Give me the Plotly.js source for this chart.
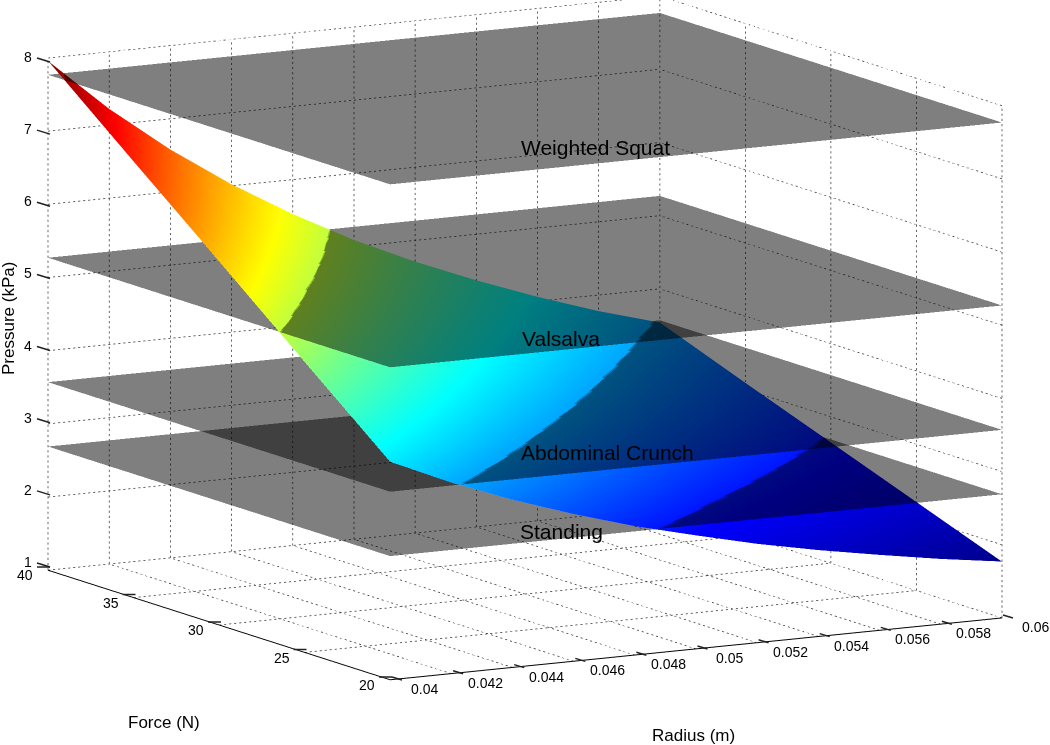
<!DOCTYPE html>
<html>
<head>
<meta charset="utf-8">
<script src="https://cdn.plot.ly/plotly-3.0.1.min.js"></script>
<style>html,body{margin:0;padding:0;background:#fff}#chart{width:1050px;height:745px}</style>
</head>
<body>
<div id="chart"></div>
<script>
const radius = [0.04,0.042,0.044,0.046,0.048,0.05,0.052,0.054,0.056,0.058,0.06];
const force = [20,25,30,35,40];
const pressureTicks = [1,2,3,4,5,6,7,8];
const radiusLabels = ['0.04','0.042','0.044','0.046','0.048','0.05','0.052','0.054','0.056','0.058','0.06'];
const forceLabels = ['20','25','30','35','40'];
const pressureLabels = ['1','2','3','4','5','6','7','8'];
const pressureAtForce20 = [3.98,3.61,3.29,3.01,2.76,2.55,2.35,2.18,2.03,1.89,1.77];
const pressureAtForce25 = [4.97,4.51,4.11,3.76,3.45,3.18,2.94,2.73,2.54,2.37,2.21];
const pressureAtForce30 = [5.97,5.41,4.93,4.51,4.14,3.82,3.53,3.27,3.05,2.84,2.65];
const pressureAtForce35 = [6.96,6.32,5.75,5.27,4.84,4.46,4.12,3.82,3.55,3.31,3.09];
const pressureAtForce40 = [7.96,7.22,6.58,6.02,5.53,5.09,4.71,4.37,4.06,3.78,3.54];
const activityNames = ['Weighted Squat','Valsalva','Abdominal Crunch','Standing'];
const activityPressure = [7.77,5.27,3.57,2.69];

const jet = [[0,'rgb(0,0,143)'],[0.125,'rgb(0,0,255)'],[0.375,'rgb(0,255,255)'],[0.625,'rgb(255,255,0)'],[0.875,'rgb(255,0,0)'],[1,'rgb(128,0,0)']];
const flat = {ambient:1,diffuse:0,specular:0,roughness:1,fresnel:0};

const xMin=radius[0], xMax=radius[radius.length-1], yMin=force[0], yMax=force[force.length-1], zMin=pressureTicks[0], zMax=pressureTicks[pressureTicks.length-1];
const gx=[],gy=[],gz=[];
function dotted(a,b,n){
  for(let i=0;i<n;i++){
    const f0=i/n,f1=(i+0.42)/n;
    gx.push(a[0]+(b[0]-a[0])*f0,a[0]+(b[0]-a[0])*f1,null);
    gy.push(a[1]+(b[1]-a[1])*f0,a[1]+(b[1]-a[1])*f1,null);
    gz.push(a[2]+(b[2]-a[2])*f0,a[2]+(b[2]-a[2])*f1,null);
  }
}
radius.forEach(r=>{dotted([r,yMin,zMin],[r,yMax,zMin],72);dotted([r,yMax,zMin],[r,yMax,zMax],100);});
force.forEach(f=>{dotted([xMin,f,zMin],[xMax,f,zMin],122);dotted([xMax,f,zMin],[xMax,f,zMax],100);});
pressureTicks.forEach(p=>{dotted([xMin,yMax,p],[xMax,yMax,p],122);dotted([xMax,yMin,p],[xMax,yMax,p],72);});

const traces=[
 {type:'scatter3d',mode:'lines',x:gx,y:gy,z:gz,connectgaps:false,line:{color:'#333',width:1.5},hoverinfo:'skip',showlegend:false},
 {type:'surface',x:radius,y:force,z:[pressureAtForce20,pressureAtForce25,pressureAtForce30,pressureAtForce35,pressureAtForce40],
  colorscale:jet,cmin:1.77,cmax:7.96,showscale:false,lighting:flat,hoverinfo:'skip',contours:{x:{highlight:false},y:{highlight:false},z:{highlight:false}}}
];
activityPressure.forEach(p=>{
  traces.push({type:'surface',x:[xMin,xMax],y:[yMin,yMax],z:[[p,p],[p,p]],surfacecolor:[[0,0],[0,0]],
    colorscale:[[0,'#000'],[1,'#000']],cmin:0,cmax:1,opacity:0.5,showscale:false,lighting:flat,hoverinfo:'skip',
    contours:{x:{highlight:false},y:{highlight:false},z:{highlight:false}}});
});

const tickFont={family:'Liberation Sans, Arial, sans-serif',size:14,color:'#000'};
const axisBase={showbackground:false,showgrid:false,zeroline:false,showspikes:false,ticks:'',showticklabels:false,title:{text:''}};
const labelFont={family:'Liberation Sans, Arial, sans-serif',size:17,color:'#000'};
const noteFont={family:'Liberation Sans, Arial, sans-serif',size:21,color:'#000'};
const notePos=[[595,147],[561,338],[607,452],[561,531]];
const px=x=>x/1050, py=y=>1-y/745;
function note(text,x,y,font,extra){return Object.assign({text,xref:'paper',yref:'paper',x:px(x),y:py(y),xanchor:'center',yanchor:'middle',showarrow:false,font},extra||{});}
const annotations=activityNames.map((t,i)=>note(t,notePos[i][0],notePos[i][1],noteFont));
annotations.push(note('Force (N)',164,722,labelFont));
annotations.push(note('Radius (m)',693,735,labelFont));
annotations.push(note('Pressure (kPa)',8,319,labelFont,{textangle:-90}));

// Tick marks and labels follow the projected edges of the box.
const shapes=[];
function tick(bx,by,dx,dy){shapes.push({type:'line',xref:'paper',yref:'paper',x0:px(bx),y0:py(by),x1:px(bx+dx),y1:py(by+dy),line:{color:'#222',width:1.5},layer:'above'});}
radius.forEach((r,i)=>{const t=(r-xMin)/(xMax-xMin),bx=392+611*t,by=677-62*t;tick(bx,by,10,3);annotations.push(note(radiusLabels[i],bx+32,by+12,tickFont));});
force.forEach((f,i)=>{const t=(f-yMin)/(yMax-yMin),bx=392-342*t,by=677-110*t;tick(bx,by,-13,0);annotations.push(note(forceLabels[i],bx-25,by+8,tickFont));});
pressureTicks.forEach((p,i)=>{const t=(p-zMin)/(zMax-zMin),by=567-505*t;tick(50,by,-13,-4);annotations.push(note(pressureLabels[i],28,by-5,tickFont));});

const L=1.6, cz=-0.0943;
const layout={
 width:1050,height:745,margin:{l:0,r:0,t:0,b:0},paper_bgcolor:'#fff',showlegend:false,annotations,shapes,
 scene:{
  domain:{x:[0,1],y:[0,1]},
  aspectmode:'manual',aspectratio:{x:1.884,y:1.875,z:1.398},
  camera:{projection:{type:'orthographic'},up:{x:0,y:0,z:1},center:{x:0,y:0,z:cz},eye:{x:-0.482*L,y:-0.858*L,z:0.180*L+cz}},
  xaxis:Object.assign({},axisBase,{range:[xMin,xMax],tickvals:radius,showline:true,linecolor:'#000',linewidth:2}),
  yaxis:Object.assign({},axisBase,{range:[yMin,yMax],tickvals:force,showline:true,linecolor:'#000',linewidth:2}),
  zaxis:Object.assign({},axisBase,{range:[zMin,zMax],tickvals:pressureTicks,showline:false})
 }
};
Plotly.newPlot('chart',traces,layout,{displayModeBar:false,staticPlot:false});
</script>
</body>
</html>
